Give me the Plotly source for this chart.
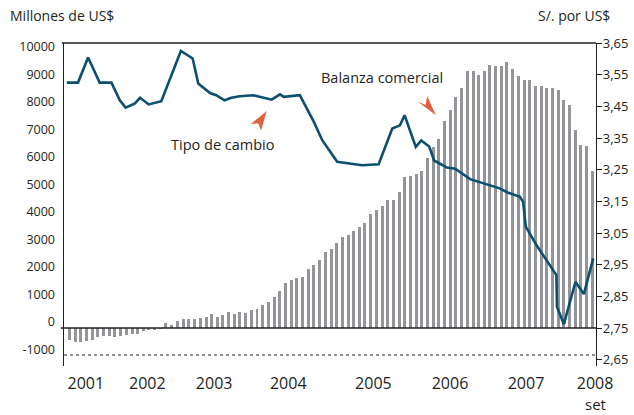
import pandas as pd
import plotly.graph_objects as go

# monthly trade balance (millones de US$), Jan 2001 - Sep 2008
months = pd.date_range('2001-01-01', periods=93, freq='MS')
balanza = [
    -433, -491, -502, -468, -433, -327, -292, -269, -304, -292, -234, -210,
    -210, -117, -58, -70, -25, 175, 105, 250, 316, 316, 316, 351,
    386, 495, 390, 460, 565, 495, 565, 530, 635, 670, 810, 915,
    1095, 1310, 1590, 1695, 1765, 1800, 2080, 2220, 2400, 2680, 2785, 2995,
    3205, 3275, 3415, 3555, 3695, 4010, 4150, 4290, 4500, 4500, 4755, 5300,
    5345, 5415, 5495, 5965, 6335, 6630, 7275, 7660, 8105, 8420, 9005, 9005,
    8890, 9005, 9240, 9205, 9180, 9320, 9090, 8855, 8715, 8715, 8500, 8500,
    8420, 8420, 8335, 8010, 7835, 6960, 6405, 6370, 5495,
]

# exchange rate (S/. por US$)
tc_fechas = [
    '2001-01-01', '2001-03-02', '2001-04-25', '2001-06-26', '2001-08-28', '2001-10-12',
    '2001-11-12', '2002-01-01', '2002-01-28', '2002-03-16', '2002-05-22', '2002-09-04',
    '2002-11-06', '2002-12-06', '2003-02-07', '2003-03-12', '2003-04-26', '2003-06-01',
    '2003-07-16', '2003-09-26', '2004-01-03', '2004-02-17', '2004-03-08', '2004-06-02',
    '2004-08-16', '2004-09-30', '2004-12-19', '2005-05-01', '2005-07-29', '2005-10-10',
    '2005-11-20', '2005-12-15', '2006-02-13', '2006-03-14', '2006-04-26', '2006-05-22',
    '2006-07-29', '2006-09-12', '2006-12-01', '2007-03-09', '2007-05-08', '2007-06-20',
    '2007-08-25', '2007-09-11', '2007-09-25', '2007-11-21', '2008-03-07', '2008-03-10',
    '2008-04-16', '2008-06-17', '2008-08-01', '2008-09-20',
]
tipo_cambio = [
    3.525, 3.525, 3.604, 3.525, 3.525, 3.469,
    3.446, 3.459, 3.477, 3.456, 3.466, 3.625,
    3.601, 3.522, 3.492, 3.485, 3.469, 3.477,
    3.482, 3.485, 3.471, 3.488, 3.480, 3.485,
    3.401, 3.343, 3.275, 3.264, 3.267, 3.380,
    3.390, 3.422, 3.322, 3.342, 3.323, 3.279,
    3.257, 3.253, 3.220, 3.203, 3.191, 3.178,
    3.164, 3.148, 3.070, 3.012, 2.917, 2.817,
    2.762, 2.896, 2.857, 2.970,
]

anios_pos = ['2001-04-13', '2002-03-08', '2003-03-01', '2004-04-01',
             '2005-07-01', '2006-08-15', '2007-09-26', '2008-09-30']
anios_txt = ['2001', '2002', '2003', '2004', '2005', '2006', '2007', '2008']

izq_vals = list(range(-1000, 10001, 1000))
izq_txt = [str(v) for v in izq_vals]
der_vals = [2.65, 2.75, 2.85, 2.95, 3.05, 3.15, 3.25, 3.35, 3.45, 3.55, 3.65]
der_txt = [f'{v:.2f}'.replace('.', ',') for v in der_vals]

TXT = '#231f20'
FONT = 'Open Sans'
W, H = 634, 415
L, R, T, B = 64, 38, 43, 49
PW, PH = W - L - R, H - T - B


def px(x, y):
    return (x - L) / PW, (H - B - y) / PH


def arrow(pts):
    p = [px(*q) for q in pts]
    return 'M ' + ' L '.join(f'{a:.4f},{b:.4f}' for a, b in p) + ' Z'


traces = [
    go.Bar(
        x=months, y=balanza, xperiod='M1', xperiodalignment='middle',
        width=1.38e9, marker=dict(color='#939598', line=dict(width=0)),
        yaxis='y',
    ),
    go.Scatter(
        x=tc_fechas, y=tipo_cambio, mode='lines',
        line=dict(color='#0b4f71', width=2.6), yaxis='y2',
    ),
    go.Scatter(x=[], y=[], yaxis='y3', showlegend=False),
]

shapes = [
    dict(type='line', xref='paper', yref='paper', x0=-0.004, x1=1, y0=1, y1=1,
         line=dict(color=TXT, width=1.3)),
    dict(type='line', xref='paper', yref='y', x0=-0.006, x1=1, y0=0, y1=0,
         line=dict(color=TXT, width=1.6)),
    dict(type='line', xref='paper', yref='paper', x0=0, x1=1,
         y0=px(0, 355)[1], y1=px(0, 355)[1],
         line=dict(color=TXT, width=1.2, dash='dot')),
    dict(type='path', xref='paper', yref='paper', fillcolor='#e0613f', line=dict(width=0),
         path=arrow([(266.7, 111), (251, 124), (258.3, 123.3), (261, 130.7)])),
    dict(type='path', xref='paper', yref='paper', fillcolor='#e0613f', line=dict(width=0),
         path=arrow([(435.7, 115), (418, 101.7), (425.7, 105), (427.3, 96)])),
]

annotations = [
    dict(text='Millones de US$', x=px(8, 0)[0], y=px(0, 16)[1], xref='paper', yref='paper',
         xanchor='left', yanchor='middle', showarrow=False, font=dict(size=14)),
    dict(text='S/. por US$', x=px(612, 0)[0], y=px(0, 16)[1], xref='paper', yref='paper',
         xanchor='right', yanchor='middle', showarrow=False, font=dict(size=14)),
    dict(text='Balanza comercial', x=px(382, 0)[0], y=px(0, 77)[1], xref='paper', yref='paper',
         xanchor='center', yanchor='middle', showarrow=False, font=dict(size=14.5)),
    dict(text='Tipo de cambio', x=px(222.5, 0)[0], y=px(0, 144)[1], xref='paper', yref='paper',
         xanchor='center', yanchor='middle', showarrow=False, font=dict(size=14.5)),
    dict(text='set', x=px(595.5, 0)[0], y=px(0, 404)[1], xref='paper', yref='paper',
         xanchor='center', yanchor='middle', showarrow=False, font=dict(size=15)),
]

layout = go.Layout(
    width=W, height=H,
    margin=dict(l=L, r=R, t=T, b=B, autoexpand=False),
    paper_bgcolor='white', plot_bgcolor='white',
    font=dict(family=FONT, color=TXT, size=13),
    showlegend=False,
    bargap=0,
    xaxis=dict(
        type='date', range=['2000-12-17', '2008-10-05'],
        tickmode='array', tickvals=anios_pos, ticktext=anios_txt,
        showgrid=False, zeroline=False, showline=False, ticks='',
        tickfont=dict(size=16), ticklabelstandoff=6,
    ),
    yaxis=dict(
        range=[-1333, 10000], showgrid=False, zeroline=False,
        showline=True, linecolor=TXT, linewidth=1.3, showticklabels=False, ticks='',
    ),
    yaxis3=dict(
        range=[-1600, 10145], overlaying='y', side='left', anchor='x',
        tickmode='array', tickvals=izq_vals, ticktext=izq_txt,
        showgrid=False, zeroline=False, showline=False, ticks='',
        ticklabelstandoff=8, tickfont=dict(size=12.5),
    ),
    yaxis2=dict(
        range=[2.63, 3.65], overlaying='y', side='right', anchor='x',
        tickmode='array', tickvals=der_vals, ticktext=der_txt,
        showgrid=False, zeroline=False, showline=True, linecolor=TXT, linewidth=1.3,
        ticks='outside', ticklen=5, tickcolor=TXT, tickwidth=1.3,
        tickfont=dict(size=13), ticklabelstandoff=-2,
    ),
    shapes=shapes,
    annotations=annotations,
)

fig = go.Figure(data=traces, layout=layout)
# drop the default page margin so the figure sits at the window's corner
fig.write_html('out.html', config={'displayModeBar': False},
               post_script="document.body.style.margin='0';")
